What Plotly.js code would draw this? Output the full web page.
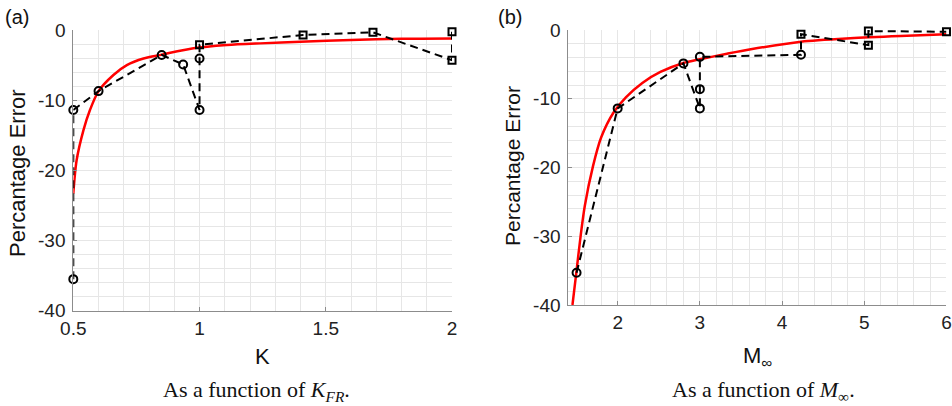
<!DOCTYPE html>
<html><head><meta charset="utf-8">
<script src="https://cdn.plot.ly/plotly-3.0.1.min.js"></script>
<style>html,body{margin:0;padding:0;background:#fff}#chart{width:952px;height:406px}</style>
</head><body><div id="chart"></div>
<script>
// Panel (a): error vs K
const kCircA = [0.5, 0.5, 0.6, 0.85, 0.935, 1.0, 1.0];
const errCircA = [-35.5, -11.4, -8.7, -3.55, -4.9, -11.4, -4.05];
const kSqA = [1.0, 1.41, 1.687, 2.0, 2.0];
const errSqA = [-2.1, -0.7, -0.33, -4.3, -0.24];
const fitKA = [0.5, 0.513, 0.54, 0.566, 0.6, 0.659, 0.712, 0.778, 0.851, 0.976, 1.108, 1.24, 1.40, 1.60, 1.80, 2.0];
const fitErrA = [-23.3, -18.6, -14.3, -11.4, -8.7, -6.4, -5.0, -4.05, -3.5, -2.6, -2.14, -1.9, -1.67, -1.43, -1.24, -1.19];
const xTicksA = [0.5, 1, 1.5, 2];
// Panel (b): error vs Mach number
const mCircB = [1.5, 2.0, 2.8, 3.0, 3.0, 3.0, 4.23];
const errCircB = [-35.3, -11.4, -4.85, -11.4, -8.6, -3.9, -3.6];
const mSqB = [4.23, 5.05, 5.05, 6.0];
const errSqB = [-0.6, -2.2, -0.15, -0.25];
const fitMB = [1.45, 1.5, 1.55, 1.6, 1.7, 1.8, 1.95, 2.1, 2.3, 2.52, 2.8, 3.0, 3.33, 3.62, 4.23, 4.83, 5.44, 6.0];
const fitErrB = [-40, -35.0, -29.9, -25.6, -19.8, -15.6, -12.0, -9.8, -7.7, -6.1, -4.8, -4.25, -3.45, -2.8, -1.7, -1.2, -0.87, -0.63];
const xTicksB = [2, 3, 4, 5, 6];
const yTicks = [0, -10, -20, -30, -40];

const dashLine = {color: '#000', width: 2, dash: '8px,5px'};
const circM = {symbol: 'circle-open', size: 8, color: '#000', line: {width: 2, color: '#000'}};
const sqM = {symbol: 'square-open', size: 7, color: '#000', line: {width: 2, color: '#000'}};
const red = {color: '#ff0000', width: 2.5, shape: 'spline', smoothing: 0.8};

function panel(xs1, ys1, xs2, ys2, fx, fy, xa, ya) {
  return [
    {x: fx, y: fy, mode: 'lines', line: red, xaxis: xa, yaxis: ya},
    {x: xs1.concat(xs2), y: ys1.concat(ys2), mode: 'lines', line: dashLine, xaxis: xa, yaxis: ya, cliponaxis: false},
    {x: xs1, y: ys1, mode: 'markers', marker: circM, xaxis: xa, yaxis: ya, cliponaxis: false},
    {x: xs2, y: ys2, mode: 'markers', marker: sqM, xaxis: xa, yaxis: ya, cliponaxis: false}
  ];
}
const data = panel(kCircA, errCircA, kSqA, errSqA, fitKA, fitErrA, 'x', 'y')
  .concat(panel(mCircB, errCircB, mSqB, errSqB, fitMB, fitErrB, 'x2', 'y2'));

const gridC = '#e6e6e6';
const tf = {family: 'Liberation Sans, Arial, sans-serif', size: 19, color: '#222'};
function ax(extra) {
  return Object.assign({
    showline: true, linecolor: '#8c8c8c', linewidth: 1,
    ticks: 'inside', ticklen: 4, tickcolor: '#8c8c8c',
    showgrid: true, gridcolor: gridC, gridwidth: 1,
    zeroline: false, tickfont: tf, fixedrange: true
  }, extra);
}
const layout = {
  width: 952, height: 406,
  margin: {l: 0, r: 0, t: 0, b: 0},
  paper_bgcolor: '#fff', plot_bgcolor: '#fff',
  showlegend: false,
  xaxis: ax({domain: [0.077, 0.4748], range: [0.5, 2], tickvals: xTicksA, ticktext: ['0.5', '1', '1.5', '2'],
    minor: {dtick: 0.1, tick0: 0.5, showgrid: true, gridcolor: gridC, ticklen: 0}, anchor: 'y'}),
  yaxis: ax({domain: [0.2347, 0.926], range: [-40, 0], tickvals: yTicks, ticktext: ['0', '-10', '-20', '-30', '-40'],
    minor: {dtick: 2, showgrid: true, gridcolor: gridC, ticklen: 0}, anchor: 'x', ticklabelstandoff: 3}),
  xaxis2: ax({domain: [0.597, 0.9942], range: [1.4, 6], tickvals: xTicksB,
    minor: {dtick: 0.2, tick0: 1.4, showgrid: true, gridcolor: gridC, ticklen: 0}, anchor: 'y2'}),
  yaxis2: ax({domain: [0.2488, 0.926], range: [-40, 0], tickvals: yTicks, ticktext: ['0', '-10', '-20', '-30', '-40'],
    minor: {dtick: 2, showgrid: true, gridcolor: gridC, ticklen: 0}, anchor: 'x2', ticklabelstandoff: 3}),
  annotations: [
    {text: '(a)', x: 17, y: 17, size: 20},
    {text: '(b)', x: 510, y: 17, size: 20},
    {text: 'Percantage Error', x: 17, y: 173, textangle: -90, size: 22},
    {text: 'Percantage Error', x: 512, y: 166, textangle: -90, size: 21},
    {text: 'K', x: 262, y: 356, size: 22},
    {text: 'M<sub>∞</sub>', x: 757, y: 357, size: 22},
    {text: 'As a function of <i>K</i><sub><i>FR</i></sub>.', x: 256, y: 391, size: 22, serif: true},
    {text: 'As a function of <i>M</i><sub>∞</sub>.', x: 763, y: 391, size: 22, serif: true}
  ].map(a => ({
    text: a.text, xref: 'paper', yref: 'paper', x: a.x / 952, y: 1 - a.y / 406,
    xanchor: 'center', yanchor: 'middle', showarrow: false, textangle: a.textangle || 0,
    font: {family: a.serif ? 'Liberation Serif, Times New Roman, serif' : 'Liberation Sans, Arial, sans-serif',
      size: a.size || 19, color: '#111'}
  }))
};
Plotly.newPlot('chart', data, layout, {displayModeBar: false, staticPlot: true});
</script></body></html>
